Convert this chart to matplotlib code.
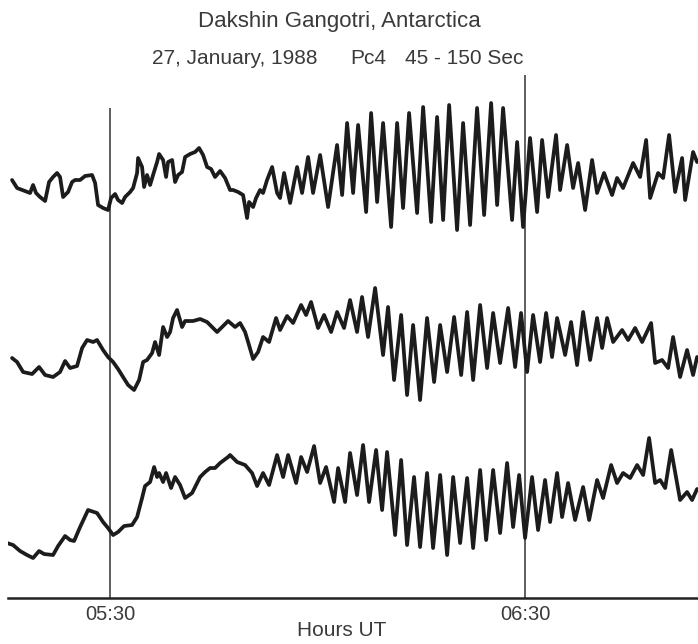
import matplotlib.pyplot as plt
from matplotlib.ticker import FuncFormatter

plt.rcParams['font.family'] = ['Liberation Sans', 'DejaVu Sans']

# magnetogram traces, time in minutes after 05:00 UT,
# deflection in chart units (upward positive)
top_t = [15.83, 16.56, 17.71, 18.44, 18.87, 19.30, 19.88, 20.61, 21.18, 21.76,
         22.34, 22.77, 23.21, 23.93, 24.51, 24.94, 25.67, 26.39, 27.40, 27.84,
         28.27, 28.99, 29.71, 30.15, 30.73, 31.16, 31.74, 32.17, 32.90, 33.33,
         33.91, 34.05, 34.63, 34.92, 35.35, 35.79, 36.22, 36.80, 37.09, 37.67,
         38.10, 38.39, 38.97, 39.40, 39.84, 40.41, 40.85, 41.57, 42.29, 42.87,
         43.45, 44.03, 44.61, 45.18, 45.91, 46.63, 47.35, 47.79, 48.51, 49.23,
         49.81, 50.10, 50.68, 51.11, 51.69, 52.12, 52.70, 53.43, 54.15, 54.58,
         55.16, 56.03, 57.04, 57.76, 58.63, 59.35, 60.37, 61.52, 62.82, 63.55,
         64.27, 65.14, 65.86, 67.02, 67.74, 68.61, 69.47, 70.63, 71.50, 72.36,
         73.23, 74.39, 75.26, 76.41, 77.28, 78.15, 79.02, 80.17, 81.04, 82.05,
         83.06, 84.08, 85.09, 85.96, 86.82, 88.12, 88.85, 89.71, 90.72, 91.74,
         92.46, 93.33, 94.48, 95.06, 96.08, 96.94, 97.67, 98.68, 99.69, 100.41,
         101.42, 102.58, 103.30, 104.17, 105.62, 106.63, 107.50, 108.08, 109.23, 109.96,
         110.82, 111.69, 112.70, 113.14, 114.29, 114.87]
top_v = [0, -8, -11, -13, -5, -13, -17, -21, -2, 3,
         7, 3, -17, -12, -2, 0, 0, 4, 5, -3,
         -25, -28, -30, -18, -14, -20, -23, -17, -12, -8,
         7, 22, 13, -7, 5, -5, 5, 18, 26, 20,
         3, 18, 20, -2, 5, 8, 23, 26, 28, 32,
         25, 13, 11, 3, 9, 2, -10, -10, -12, -15,
         -38, -22, -27, -18, -10, -13, 0, 13, -13, -18,
         7, -23, 13, -13, 23, -13, 25, -27, 35, -15,
         57, -13, 55, -32, 67, -22, 57, -47, 57, -28,
         67, -33, 73, -42, 63, -40, 75, -50, 57, -45,
         72, -35, 77, -25, 72, -40, 38, -47, 42, -32,
         40, -17, 45, -10, 35, -8, 17, -30, 20, -13,
         7, -15, 2, -8, 17, 3, 40, -18, 7, 2,
         45, -12, 22, -20, 28, 18]

mid_t = [15.83, 16.56, 17.43, 18.73, 19.74, 20.61, 21.76, 22.77, 23.50, 24.22,
         25.23, 25.96, 26.68, 27.55, 28.12, 28.99, 29.71, 30.44, 31.16, 31.88,
         32.61, 33.47, 34.20, 34.78, 35.35, 36.08, 36.51, 37.09, 37.67, 38.25,
         38.68, 39.11, 39.69, 40.41, 40.85, 42.00, 43.02, 44.03, 44.75, 45.47,
         46.20, 47.06, 48.08, 48.80, 49.52, 49.96, 50.68, 51.40, 52.12, 52.99,
         54.00, 54.58, 55.59, 56.46, 57.62, 58.34, 59.06, 60.07, 60.94, 61.96,
         62.82, 63.83, 64.70, 65.71, 66.43, 67.30, 68.32, 69.47, 70.19, 71.06,
         72.08, 72.94, 73.81, 74.82, 75.83, 76.85, 77.72, 78.73, 79.74, 80.76,
         81.62, 82.49, 83.50, 84.51, 85.38, 86.39, 87.55, 88.56, 89.42, 90.29,
         91.16, 92.17, 93.04, 93.90, 94.63, 95.79, 96.65, 97.52, 98.39, 99.40,
         100.41, 101.14, 101.86, 102.73, 104.03, 104.90, 105.91, 106.92, 108.22, 108.80,
         109.81, 110.68, 111.40, 112.41, 113.42, 114.29, 114.87]
mid_v = [-18, -22, -32, -34, -27, -35, -37, -32, -21, -28,
         -26, -8, 0, -2, 0, -10, -17, -22, -29, -37,
         -45, -50, -40, -22, -20, -13, -2, -15, 13, 3,
         8, 22, 30, 13, 19, 19, 21, 18, 13, 8,
         13, 19, 13, 17, 8, -2, -19, -12, 3, -2,
         22, 10, 24, 17, 35, 25, 38, 12, 25, 8,
         28, 12, 40, 8, 43, 3, 52, -15, 33, -40,
         25, -55, 15, -60, 22, -42, 15, -32, 23, -35,
         28, -40, 35, -28, 27, -23, 32, -27, 27, -32,
         25, -22, 27, -17, 22, -15, 18, -25, 28, -20,
         22, -8, 22, -2, 10, 0, 12, -2, 17, -23,
         -20, -28, 3, -37, -10, -35, -17]

low_t = [15.11, 15.98, 16.99, 18.00, 18.87, 19.74, 20.46, 21.76, 22.49, 23.50,
         24.22, 24.80, 25.67, 26.82, 28.12, 28.99, 29.71, 30.44, 31.16, 32.03,
         33.18, 33.91, 34.63, 35.06, 35.79, 36.37, 36.80, 37.09, 37.67, 38.10,
         38.82, 39.40, 40.12, 40.85, 41.86, 43.02, 43.74, 44.46, 45.18, 45.91,
         47.06, 47.35, 48.37, 49.52, 50.53, 51.26, 52.12, 52.99, 54.15, 55.02,
         55.74, 56.90, 57.62, 58.49, 59.50, 60.37, 61.23, 62.39, 62.97, 63.98,
         64.70, 65.71, 66.58, 67.45, 68.46, 69.33, 70.05, 71.21, 72.08, 72.94,
         73.95, 74.82, 75.83, 76.70, 77.72, 78.73, 79.60, 80.61, 81.62, 82.49,
         83.50, 84.37, 85.38, 86.39, 87.40, 88.27, 89.14, 90.00, 91.01, 91.88,
         92.89, 93.62, 94.63, 95.35, 96.22, 97.23, 98.39, 99.26, 100.41, 101.28,
         102.44, 103.30, 104.17, 105.19, 106.20, 107.07, 107.93, 108.80, 109.52, 110.25,
         111.12, 112.41, 113.42, 114.14, 114.87]
low_v = [-43, -45, -51, -55, -58, -51, -54, -55, -46, -36,
         -40, -41, -27, -10, -13, -22, -28, -35, -32, -26,
         -25, -17, 2, 14, 18, 33, 23, 27, 18, 27,
         12, 23, 15, 2, 7, 23, 28, 32, 32, 37,
         43, 45, 38, 35, 27, 14, 27, 15, 45, 23,
         45, 17, 43, 28, 54, 17, 33, -2, 32, -2,
         47, 5, 55, -2, 50, -10, 48, -35, 40, -45,
         23, -47, 27, -48, 25, -55, 23, -43, 22, -48,
         30, -40, 30, -33, 37, -27, 25, -38, 23, -30,
         20, -22, 27, -17, 17, -20, 13, -20, 20, 2,
         35, 17, 27, 22, 35, 25, 62, 17, 20, 12,
         50, 0, 8, 0, 11]

# event markers at 05:30 and 06:30 UT
marker_t = [30, 90]
marker_top = [490, 523]

fig = plt.figure(figsize=(6.98, 6.44), dpi=100)
ax = fig.add_axes([0.0115, 0.0714, 0.9885, 0.9286])

ink = '#1c1c1c'
grey = '#3a3a3a'
ax.vlines(marker_t, 0, marker_top, color='#333333', lw=1.1)

for t, v, base in [(top_t, top_v, 418), (mid_t, mid_v, 258), (low_t, low_v, 98)]:
    ax.plot(t, [base + y for y in v], color=ink, lw=2.7,
            solid_joinstyle='round', solid_capstyle='round')

ax.set_xlim(15.25, 115.0)
ax.set_ylim(0, 598)
for side in ['top', 'left', 'right']:
    ax.spines[side].set_visible(False)
ax.spines['bottom'].set_linewidth(1.8)
ax.spines['bottom'].set_color('#222222')
ax.set_yticks([])
ax.set_xticks(marker_t)
ax.xaxis.set_major_formatter(FuncFormatter(
    lambda m, pos: '%02d:%02d' % (5 + int(m) // 60, int(m) % 60)))
ax.tick_params(axis='x', length=0, pad=5, labelsize=14.5, labelcolor=grey)
ax.set_xlabel('Hours UT', fontsize=15, color=grey)
ax.xaxis.label.set_va('center')
ax.xaxis.set_label_coords(0.483, -0.0535)

fig.text(0.4857, 0.967, 'Dakshin Gangotri, Antarctica', ha='center', va='center',
         fontsize=16, color=grey)
fig.text(0.2178, 0.9084, '27, January, 1988', ha='left', va='center',
         fontsize=15, color=grey)
fig.text(0.5014, 0.9084, 'Pc4', ha='left', va='center', fontsize=15, color=grey)
fig.text(0.7493, 0.9084, '45 - 150 Sec', ha='right', va='center',
         fontsize=15, color=grey)

fig.savefig('out.png', dpi=100)
